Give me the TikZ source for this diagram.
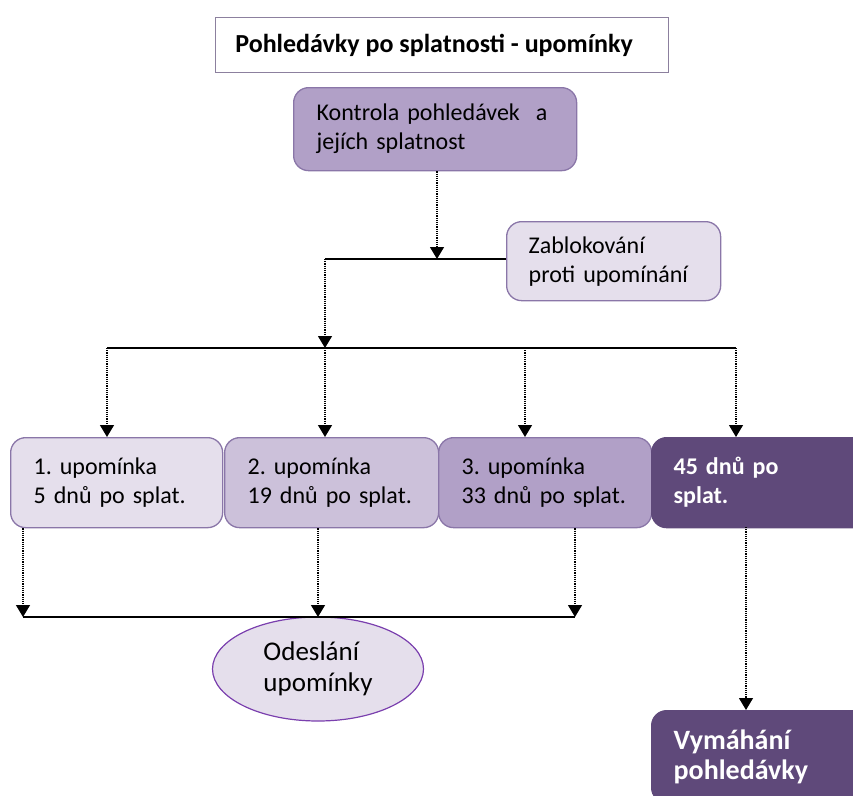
\documentclass[tikz,border=0pt]{standalone}
\usepackage{fontspec}
\setmainfont{Carlito}
\usetikzlibrary{arrows.meta,shapes.geometric}
\frenchspacing

\definecolor{lila1}{HTML}{E5DFEC}
\definecolor{lila2}{HTML}{CCC1DA}
\definecolor{lila3}{HTML}{B1A0C7}
\definecolor{lila4}{HTML}{5F497A}
\definecolor{rim}{HTML}{8A76A8}
\definecolor{titlerim}{HTML}{8C809E}
\definecolor{ovalrim}{HTML}{7A3FAE}

\tikzset{
  stagebox/.style={draw=rim, line width=1.3pt, rounded corners=15pt,
    inner xsep=0pt, inner ysep=0pt, align=left,
    font=\fontsize{24}{29}\selectfont, anchor=north west},
  darkbox/.style={stagebox, draw=lila4, fill=lila4, text=white,
    font=\fontsize{24}{29}\selectfont\bfseries},
  feed/.style={densely dotted, line width=1.2pt,
    -{Triangle[width=14pt,length=12pt]}},
  bus/.style={line width=1.3pt},
}

\begin{document}
\begin{tikzpicture}[x=1pt,y=-1pt]
\useasboundingbox (0,0) rectangle (853,795);
\clip (0,0) rectangle (853,795);

% title
\node[draw=titlerim, line width=1.2pt, fill=white, anchor=north west,
      minimum width=453pt, minimum height=55pt, inner sep=0pt,
      font=\fontsize{26}{30}\selectfont\bfseries]
  (title) at (215,17) {Pohledávky po splatnosti - upomínky\hspace*{16pt}};

% control step and blocking step
\node[stagebox, fill=lila3, minimum width=283pt, minimum height=83pt,
      text width=237pt] (kontrola) at (293,87)
  {Kontrola pohledávek\hspace{8pt} a\\jejích splatnost};
\node[stagebox, fill=lila1, minimum width=214pt, minimum height=79pt,
      text width=170pt] (blok) at (506,221)
  {Zablokování\\proti upomínání};

% reminder stages
\node[stagebox, fill=lila1, minimum width=212pt, minimum height=90pt,
      text width=166pt] (u1) at (10,437) {1. upomínka\\5 dnů po splat.};
\node[stagebox, fill=lila2, minimum width=214pt, minimum height=90pt,
      text width=168pt] (u2) at (224,437) {2. upomínka\\19 dnů po splat.};
\node[stagebox, fill=lila3, minimum width=213pt, minimum height=90pt,
      text width=167pt] (u3) at (438,437) {3. upomínka\\33 dnů po splat.};
\node[darkbox, minimum width=220pt, minimum height=90pt,
      text width=176pt] (u4) at (651,437) {45 dnů po\\splat.};

% outcomes
\node[ellipse, draw=ovalrim, line width=1.2pt, fill=lila1,
      minimum width=211pt, minimum height=104pt, inner sep=0pt,
      align=left, font=\fontsize{27}{31}\selectfont]
  (odeslani) at (318,669) {Odeslání\\upomínky};
\node[darkbox, minimum width=220pt, minimum height=92pt,
      text width=176pt, font=\fontsize{28}{30}\selectfont\bfseries]
  (vym) at (651,710) {Vymáhání\\pohledávky};

% junction points
\coordinate (j1) at (437,259);
\coordinate (j2) at (325,259);
\coordinate (j3) at (325,348);
\coordinate (s1) at (107,348);
\coordinate (s2) at (525,348);
\coordinate (s4) at (736,348);
\coordinate (c1) at (23,617);
\coordinate (c2) at (318,617);
\coordinate (c3) at (575,617);
\coordinate (c4) at (746,527);

% upper connectors
\draw[feed] (kontrola.south -| j1) -- (j1);
\draw[bus] (blok.west |- j1) -- (j2);
\draw[feed] (j2) -- (j3);
\draw[bus] (s1) -- (s4);
\draw[feed] (s1) -- (u1.north -| s1);
\draw[feed] (j3) -- (u2.north -| j3);
\draw[feed] (s2) -- (u3.north -| s2);
\draw[feed] (s4) -- (u4.north -| s4);

% lower connectors
\draw[feed] (u1.south -| c1) -- (c1);
\draw[feed] (u2.south -| c2) -- (c2);
\draw[feed] (u3.south -| c3) -- (c3);
\draw[bus] (c1) -- (c3);
\draw[feed] (c4) -- (vym.north -| c4);
\end{tikzpicture}
\end{document}
